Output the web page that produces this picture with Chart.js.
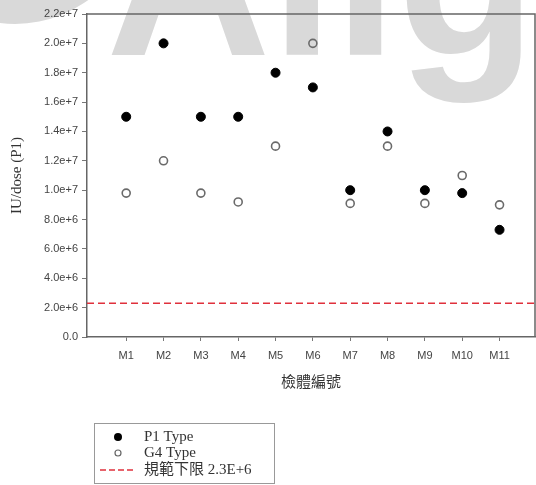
<!DOCTYPE html>
<html>
<head>
<meta charset="utf-8">
<script src="https://cdn.jsdelivr.net/npm/chart.js@4"></script>
<style>
  html, body { margin: 0; padding: 0; background: #fff; }
  #wrap { width: 536px; height: 485px; }
</style>
</head>
<body>
<div id="wrap"><canvas id="myChart" width="536" height="485"></canvas></div>
<script>
var categorias = ["M1", "M2", "M3", "M4", "M5", "M6", "M7", "M8", "M9", "M10", "M11"];
var p1Type = [1.5e7, 2.0e7, 1.5e7, 1.5e7, 1.8e7, 1.7e7, 1.0e7, 1.4e7, 1.0e7, 9.8e6, 7.3e6];
var g4Type = [9.8e6, 1.2e7, 9.8e6, 9.2e6, 1.3e7, 2.0e7, 9.1e6, 1.3e7, 9.1e6, 1.1e7, 9.0e6];
var limite = 2.3e6;
var yTicks = [0, 2e6, 4e6, 6e6, 8e6, 1e7, 1.2e7, 1.4e7, 1.6e7, 1.8e7, 2.0e7, 2.2e7];
var legendas = ["P1 Type", "G4 Type", "規範下限 2.3E+6"];

var xMin = -0.05, xMax = 11.95;

var toPoints = (arr) => arr.map((v, i) => ({x: i + 1, y: v}));

// fundo com a marca d'agua cinza
var fundo = {
  id: 'fundo',
  beforeDraw: function(chart){
    var c = chart.ctx;
    c.save();
    c.fillStyle = '#fff';
    c.fillRect(0, 0, chart.width, chart.height);
    c.fillStyle = '#d9d9d9';
    c.beginPath();
    c.arc(15, -100, 124, 0, Math.PI * 2);
    c.fill();
    c.font = 'bold 228px "Liberation Sans"';
    c.textBaseline = 'alphabetic';
    c.fillText('Allg', 106, 55);
    c.restore();
  },
  afterDraw: function(chart){
    var c = chart.ctx, a = chart.chartArea;
    c.save();
    c.strokeStyle = '#666';
    c.lineWidth = 1.5;
    c.beginPath();
    c.moveTo(a.left, a.top);
    c.lineTo(a.right, a.top);
    c.lineTo(a.right, a.bottom);
    c.stroke();

    // legenda
    var lx = 94, ly = 423, lw = 180, lh = 60;
    c.strokeStyle = '#999';
    c.lineWidth = 1;
    c.strokeRect(lx + 0.5, ly + 0.5, lw, lh);
    var rows = [437, 453, 470];
    c.fillStyle = '#000';
    c.beginPath();
    c.arc(118, rows[0], 4, 0, Math.PI * 2);
    c.fill();
    c.strokeStyle = '#666';
    c.lineWidth = 1.2;
    c.beginPath();
    c.arc(118, rows[1], 3, 0, Math.PI * 2);
    c.stroke();
    c.strokeStyle = '#e0303c';
    c.lineWidth = 1.3;
    c.setLineDash([6, 3]);
    c.beginPath();
    c.moveTo(100, rows[2]);
    c.lineTo(136, rows[2]);
    c.stroke();
    c.setLineDash([]);
    c.fillStyle = '#333';
    c.font = '15px "Liberation Serif", "Noto Sans CJK TC"';
    c.textBaseline = 'middle';
    legendas.forEach(function(t, i){
      c.fillText(t, 144, rows[i]);
    });
    c.restore();
  }
};

var ctx = document.getElementById('myChart');

var myChart = new Chart(ctx, {
  type: 'scatter',
  data: {
    datasets: [{
      label: legendas[0],
      data: toPoints(p1Type),
      backgroundColor: '#000',
      borderColor: '#000',
      pointRadius: 4.5,
      pointHoverRadius: 4.5
    }, {
      label: legendas[1],
      data: toPoints(g4Type),
      backgroundColor: 'rgba(255,255,255,0)',
      borderColor: '#6a6a6a',
      borderWidth: 1.6,
      pointRadius: 4,
      pointHoverRadius: 4
    }, {
      label: legendas[2],
      type: 'line',
      data: [{x: xMin, y: limite}, {x: xMax, y: limite}],
      borderColor: '#e0303c',
      borderWidth: 1.6,
      borderDash: [7, 4],
      pointRadius: 0,
      fill: false
    }]
  },
  options: {
    responsive: false,
    animation: false,
    layout: { autoPadding: false, padding: { left: 0, top: 14, right: 1, bottom: 0 } },
    plugins: {
      legend: { display: false },
      tooltip: { enabled: false }
    },
    scales: {
      x: {
        type: 'linear',
        min: xMin,
        max: xMax,
        afterBuildTicks: function(axis){
          axis.ticks = categorias.map((c, i) => ({value: i + 1}));
        },
        afterFit: function(axis){
          axis.height = 148;
          axis.paddingLeft = 0;
          axis.paddingRight = 0;
        },
        grid: { drawOnChartArea: false, drawTicks: true, tickLength: 4, color: '#777' },
        border: { color: '#666', width: 1.5 },
        ticks: {
          autoSkip: false,
          maxRotation: 0,
          padding: 8,
          color: '#444',
          font: { family: 'Liberation Sans', size: 11 },
          callback: (v) => categorias[Math.round(v) - 1] || ''
        },
        title: {
          display: true,
          text: '檢體編號',
          color: '#333',
          font: { family: 'Noto Sans CJK TC', size: 15 },
          padding: { top: 0, bottom: 95 }
        }
      },
      y: {
        min: 0,
        max: 2.2e7,
        afterBuildTicks: function(axis){
          axis.ticks = yTicks.map((v) => ({value: v}));
        },
        afterFit: function(axis){ axis.width = 87; },
        grid: { drawOnChartArea: false, drawTicks: true, tickLength: 5, color: '#777' },
        border: { color: '#666', width: 1.5 },
        ticks: {
          padding: 4,
          color: '#444',
          font: { family: 'Liberation Sans', size: 11 },
          callback: (v) => v === 0 ? '0.0' : v.toExponential(1)
        },
        title: {
          display: true,
          text: 'IU/dose (P1)',
          color: '#333',
          font: { family: 'Liberation Serif', size: 15 },
          padding: { top: 8, bottom: 0 }
        }
      }
    }
  },
  plugins: [fundo]
});
</script>
</body>
</html>
